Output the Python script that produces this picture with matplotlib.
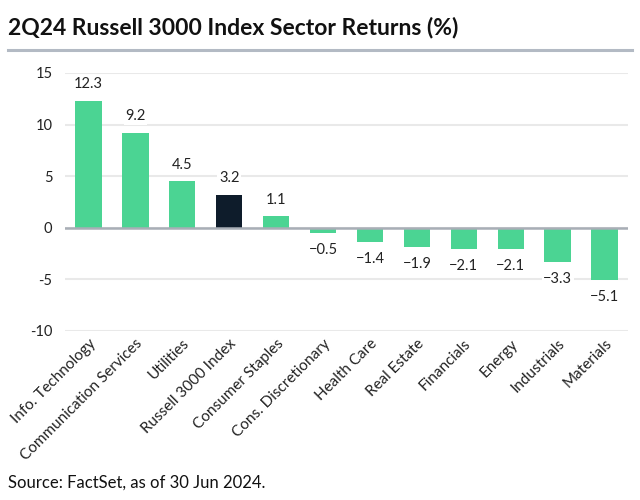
import matplotlib.pyplot as plt
import numpy as np

sectors = [
    "Info. Technology",
    "Communication Services",
    "Utilities",
    "Russell 3000 Index",
    "Consumer Staples",
    "Cons. Discretionary",
    "Health Care",
    "Real Estate",
    "Financials",
    "Energy",
    "Industrials",
    "Materials",
]
returns = [12.3, 9.2, 4.5, 3.2, 1.1, -0.5, -1.4, -1.9, -2.1, -2.1, -3.3, -5.1]
highlight = "Russell 3000 Index"
yticks = [-10, -5, 0, 5, 10, 15]

green = "#4bd493"
navy = "#0e1c2b"

plt.rcParams["font.family"] = ["Lato", "DejaVu Sans"]

fig = plt.figure(figsize=(6.4, 5), dpi=100)
ax = fig.add_axes([65 / 640, 1 - 331 / 500, 563 / 640, 258 / 500])

x = np.arange(len(sectors))
colors = [navy if s == highlight else green for s in sectors]
bars = ax.bar(x, returns, width=0.56, color=colors, zorder=3)

for xi, v in zip(x, returns):
    off = 7 if v >= 0 else -7
    ax.annotate(
        f"{v:.1f}".replace("-", "\u2212"),
        (xi, v),
        xytext=(0, off),
        textcoords="offset points",
        ha="center",
        va="bottom" if v >= 0 else "top",
        fontsize=10.5,
        color="#222222",
        zorder=4,
        bbox=dict(boxstyle="square,pad=0.1", fc="white", ec="none"),
    )

ax.set_xlim(-0.5, len(sectors) - 0.5)
ax.set_ylim(-10, 15)
ax.set_yticks(yticks)
ax.set_yticklabels([str(t) for t in yticks], fontsize=10.5, color="#222222")
ax.yaxis.grid(True, color="#e9e9e9", linewidth=1.5, zorder=0)
ax.axhline(0, color="#a8aeb6", linewidth=1.8, zorder=3)
ax.tick_params(axis="y", length=0, pad=9)
ax.tick_params(axis="x", length=0, pad=4)
ax.set_xticks(x)
ax.set_xticklabels(
    sectors, rotation=45, ha="right", rotation_mode="anchor", fontsize=11, color="#222222"
)
for sp in ax.spines.values():
    sp.set_visible(False)

fig.text(8 / 640, 1 - 28 / 500, "2Q24 Russell 3000 Index Sector Returns (%)",
         fontsize=16.5, fontweight="bold", va="center", ha="left", color="#111111")
fig.add_artist(plt.Line2D([8 / 640, 632 / 640], [1 - 50 / 500, 1 - 50 / 500],
                          color="#b3bac4", linewidth=2.2))
fig.text(8 / 640, 1 - 483 / 500, "Source: FactSet, as of 30 Jun 2024.",
         fontsize=12, va="center", ha="left", color="#111111")

fig.savefig("out.png", dpi=100)
